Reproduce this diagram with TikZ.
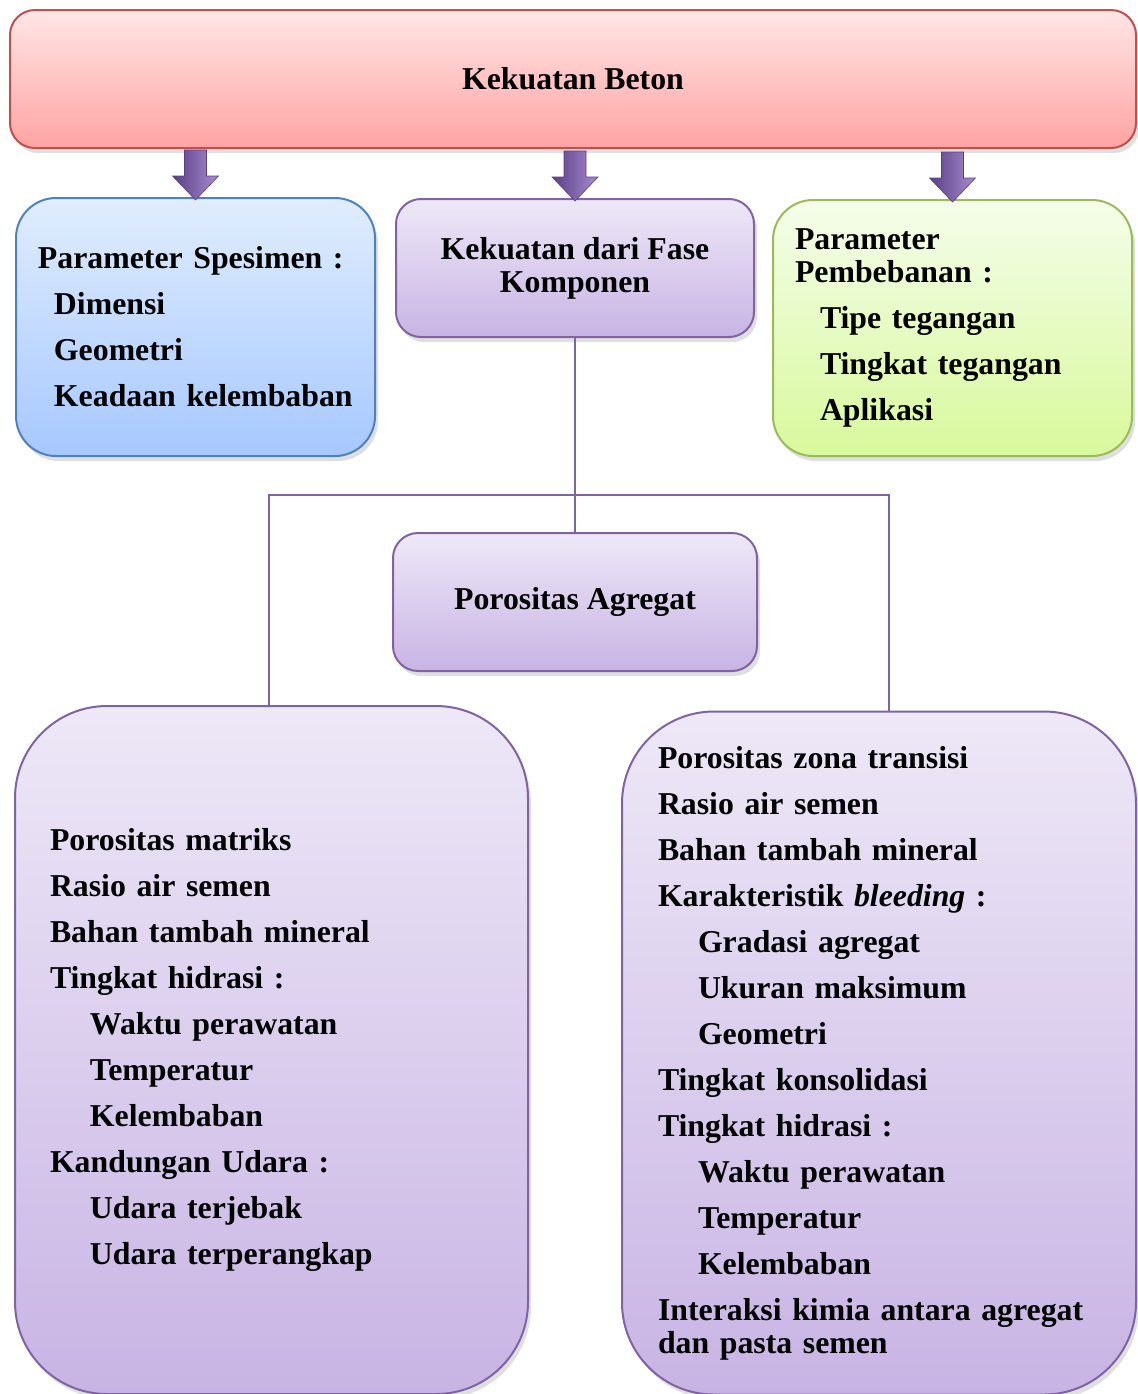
\documentclass[tikz,border=0pt]{standalone}
\usepackage{fontspec}
\setmainfont{Liberation Serif}
\usetikzlibrary{shadows}

\definecolor{redline}{HTML}{C0504D}
\definecolor{redtop}{HTML}{FFE6E6}
\definecolor{redbot}{HTML}{FFA3A3}
\definecolor{blueline}{HTML}{4F81BD}
\definecolor{bluetop}{HTML}{E0EDFD}
\definecolor{bluebot}{HTML}{A6C8FF}
\definecolor{purpline}{HTML}{8064A2}
\definecolor{purptop}{HTML}{EEE8F7}
\definecolor{purpbot}{HTML}{C8B4E4}
\definecolor{greenline}{HTML}{9BBB59}
\definecolor{greentop}{HTML}{F5FDEA}
\definecolor{greenbot}{HTML}{D8F99C}
\definecolor{arrowdark}{HTML}{5A3F85}
\definecolor{arrowlight}{HTML}{A78CD2}

\tikzset{
  box/.style={draw, line width=1pt, rounded corners=12.5pt, inner sep=0pt,
    font=\fontsize{15.9pt}{23pt}\selectfont\bfseries,
    drop shadow={opacity=0.25, shadow xshift=1.5pt, shadow yshift=-2.5pt}},
  redbox/.style={box, draw=redline, top color=redtop, bottom color=redbot},
  bluebox/.style={box, draw=blueline, top color=bluetop, bottom color=bluebot, rounded corners=20pt},
  purpbox/.style={box, draw=purpline, top color=purptop, bottom color=purpbot},
  greenbox/.style={box, draw=greenline, top color=greentop, bottom color=greenbot, rounded corners=20pt},
  listbox/.style={purpbox, rounded corners=46pt, align=left},
  blockarrow/.style={left color=arrowdark, right color=arrowlight, draw=arrowdark, line width=0.3pt},
  link/.style={draw=purpline, line width=1pt}
}

\begin{document}
\begin{tikzpicture}[x=0.5pt,y=-0.5pt]
\useasboundingbox (0,0) rectangle (1137,1394);

% top level
\node[redbox, minimum width=563pt, minimum height=69pt] (beton) at (573,79) {Kekuatan Beton};

% second level
\node[bluebox, align=left, text width=157.5pt, inner xsep=11pt, minimum height=129pt] (spesimen) at (195.5,327)
  {Parameter Spesimen :\\ \hspace*{8pt}Dimensi\\ \hspace*{8pt}Geometri\\ \hspace*{8pt}Keadaan kelembaban};
\node[purpbox, align=center, minimum width=179pt, minimum height=69pt,
  font=\fontsize{15.9pt}{16.5pt}\selectfont\bfseries] (fase) at (575,268)
  {Kekuatan dari Fase\\ Komponen};
\node[greenbox, align=left, text width=157.5pt, inner xsep=11pt, minimum height=128pt] (beban) at (952.5,328)
  {Parameter\\[-6.5pt] Pembebanan :\\ \hspace*{12.5pt}Tipe tegangan\\ \hspace*{12.5pt}Tingkat tegangan\\ \hspace*{12.5pt}Aplikasi};

\foreach \n in {spesimen,fase,beban}
  \path[blockarrow] ([yshift=-1.5pt]\n.north) -- ++(-11.5pt,12pt) -- ++(6pt,0pt) -- ++(0pt,13pt)
    -- ++(11pt,0pt) -- ++(0pt,-13pt) -- ++(6pt,0pt) -- cycle;

% third level
\node[purpbox, minimum width=182pt, minimum height=69pt] (agregat) at (575,602) {Porositas Agregat};

\node[listbox, text width=221.5pt, inner xsep=17.5pt, minimum height=344pt] (matriks) at (271.5,1050)
  {Porositas matriks\\
   Rasio air semen\\
   Bahan tambah mineral\\
   Tingkat hidrasi :\\
   \hspace*{20pt}Waktu perawatan\\
   \hspace*{20pt}Temperatur\\
   \hspace*{20pt}Kelembaban\\
   Kandungan Udara :\\
   \hspace*{20pt}Udara terjebak\\
   \hspace*{20pt}Udara terperangkap};

\node[listbox, text width=221pt, inner xsep=18pt, minimum height=341.5pt] (transisi) at (879,1053)
  {Porositas zona transisi\\
   Rasio air semen\\
   Bahan tambah mineral\\
   Karakteristik \textit{bleeding} :\\
   \hspace*{20pt}Gradasi agregat\\
   \hspace*{20pt}Ukuran maksimum\\
   \hspace*{20pt}Geometri\\
   Tingkat konsolidasi\\
   Tingkat hidrasi :\\
   \hspace*{20pt}Waktu perawatan\\
   \hspace*{20pt}Temperatur\\
   \hspace*{20pt}Kelembaban\\
   Interaksi kimia antara agregat\\[-6.5pt]
   dan pasta semen};

% connectors
\coordinate (bus) at (577,495);
\draw[link] (fase.south) -- (agregat.north);
\draw[link] ([xshift=-1.25pt]matriks.north) |- (bus) -| ([xshift=5pt]transisi.north);
\end{tikzpicture}
\end{document}
